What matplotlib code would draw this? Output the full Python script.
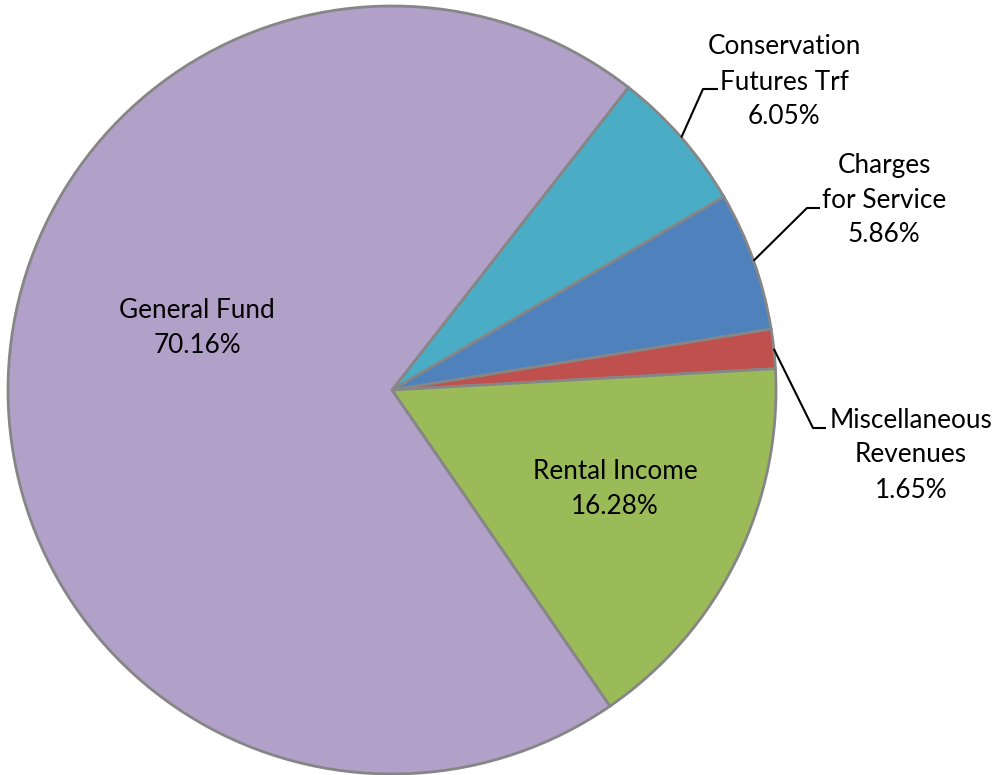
import matplotlib.pyplot as plt
import numpy as np

plt.rcParams['font.family'] = ['Lato', 'DejaVu Sans']

# 收入来源及占比(顺时针顺序)
labels = ['Conservation\nFutures Trf', 'Charges\nfor Service', 'Miscellaneous\nRevenues',
          'Rental Income', 'General Fund']
shares = [6.05, 5.86, 1.65, 16.28, 70.16]
colors = ['#4BACC6', '#4F81BD', '#C0504D', '#9BBB59', '#B1A0C7']

W, H = 997, 775
CX, CY, R = 392, 390, 384


def px(x, y):
    # 像素坐标 -> 数据坐标
    return (x - CX) / R, (CY - y) / R


fig = plt.figure(figsize=(W / 100, H / 100), dpi=100)
ax = fig.add_axes([0, 0, 1, 1])

wedges, _ = ax.pie(shares, colors=colors, startangle=52, counterclock=False,
                   radius=1.0, wedgeprops=dict(edgecolor='#868686', linewidth=2))

ax.set_xlim(-CX / R, (W - CX) / R)
ax.set_ylim((CY - H) / R, CY / R)
ax.set_aspect('auto')
ax.axis('off')

fs = 18.8
ls = 1.5
# 饼内标签
inside = {3: (615, 489), 4: (197, 328)}
for i, (x, y) in inside.items():
    ax.text(*px(x, y), '%s\n%.2f%%' % (labels[i], shares[i]), ha='center', va='center',
            fontsize=fs, linespacing=ls)

# 饼外标签及引导线: (文字中心, 折点, 水平线终点)
outside = {0: ((784, 82), (703, 89), (718, 89)),
           1: ((884, 200), (807, 208), (820, 208)),
           2: ((911, 455), (813, 428), (826, 428))}
for i, (tc, elbow, end) in outside.items():
    w = wedges[i]
    mid = np.deg2rad((w.theta1 + w.theta2) / 2)
    x0, y0 = np.cos(mid), np.sin(mid)
    ex, ey = px(*elbow)
    hx, hy = px(*end)
    ax.plot([x0, ex, hx], [y0, ey, hy], color='black', linewidth=1.5, solid_capstyle='butt')
    ax.text(*px(*tc), '%s\n%.2f%%' % (labels[i], shares[i]), ha='center', va='center',
            fontsize=fs, linespacing=ls)

fig.savefig('out.png', dpi=100)
